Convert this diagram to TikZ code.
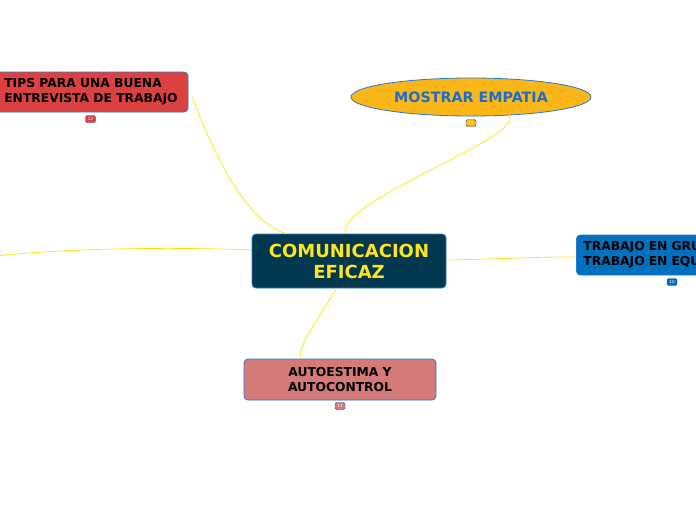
\documentclass[tikz,border=0pt]{standalone}
\usepackage{fontspec}
\setmainfont{DejaVu Sans}
\usetikzlibrary{shapes.geometric,calc}
\definecolor{conn}{HTML}{FFE400}
\definecolor{bord}{HTML}{2A78D4}
\definecolor{tipsfill}{HTML}{DB4141}
\definecolor{empfill}{HTML}{FBB617}
\definecolor{emptext}{HTML}{1C6DD0}
\definecolor{cenfill}{HTML}{02384F}
\definecolor{centext}{HTML}{FFE51B}
\definecolor{trabfill}{HTML}{0071BC}
\definecolor{autofill}{HTML}{D47B7A}
\tikzset{
  topicbox/.style={draw=bord, line width=0.8pt, rounded corners=4pt, inner sep=0pt, align=center, font=\bfseries\fontsize{12.3}{15}\selectfont, text=black},
  badge/.style={draw=bord!70!black, line width=0.4pt, rounded corners=1.5pt, minimum width=10pt, minimum height=7pt, inner sep=0pt, text=white, font=\fontsize{4}{4}\selectfont},
  link/.style={draw=conn, line width=0.7pt}
}
\begin{document}
\begin{tikzpicture}[x=1pt,y=-1pt]
\path[use as bounding box, clip] (0,0) rectangle (696,520);
\fill[white] (0,0) rectangle (696,520);

% nodes
\node[topicbox, fill=cenfill, text=centext, minimum width=194pt, minimum height=54pt, font=\bfseries\fontsize{18}{21}\selectfont] (central) at (349,261) {COMUNICACION\\EFICAZ};
\node[topicbox, fill=tipsfill, minimum width=194pt, minimum height=40pt, align=left] (tips) at (91,92) {TIPS PARA UNA BUENA\\ENTREVISTA DE TRABAJO};
\node[ellipse, draw=bord, line width=0.8pt, fill=empfill, text=emptext, minimum width=240pt, minimum height=38pt, inner sep=0pt, font=\bfseries\fontsize{14.3}{16}\selectfont] (emp) at (471,97) {MOSTRAR EMPATIA};
\node[topicbox, fill=trabfill, minimum width=194pt, minimum height=40pt, align=left, anchor=west, text width=180pt] (trab) at (576,255) {TRABAJO EN GRUPO Y\\TRABAJO EN EQUIPO};
\node[topicbox, fill=autofill, minimum width=192pt, minimum height=41pt] (auto) at (340,379.5) {AUTOESTIMA Y\\ AUTOCONTROL};
\coordinate (leftend) at (-5,256);

% badges
\node[badge, fill=tipsfill] (b1) at (90.5,119) {12};
\node[badge, fill=empfill] (b2) at (471,123) {11};
\node[badge, fill=trabfill] (b3) at (672,282) {10};
\node[badge, fill=autofill] (b4) at (340,406) {13};

% connectors
\draw[link] ($(tips.east)+(4,5)$) .. controls (212,150) and (245,222) .. ($(central.north west)+(35,0)$);
\draw[link] ($(emp.south)+(37,-1)$) .. controls (530,135) and (338,200) .. ($(central.north)+(-4,0)$);
\draw[link] ($(central.east)+(0,-1)$) .. controls (500,259) and (530,257) .. ($(trab.west)+(0,2)$);
\draw[link] ($(central.south)+(-13,0)$) .. controls (322,315) and (300,340) .. ($(auto.north)+(-40,0)$);
\draw[link] ($(central.west)+(0,-11)$) .. controls (150,246) and (50,250) .. (leftend);
\end{tikzpicture}
\end{document}
